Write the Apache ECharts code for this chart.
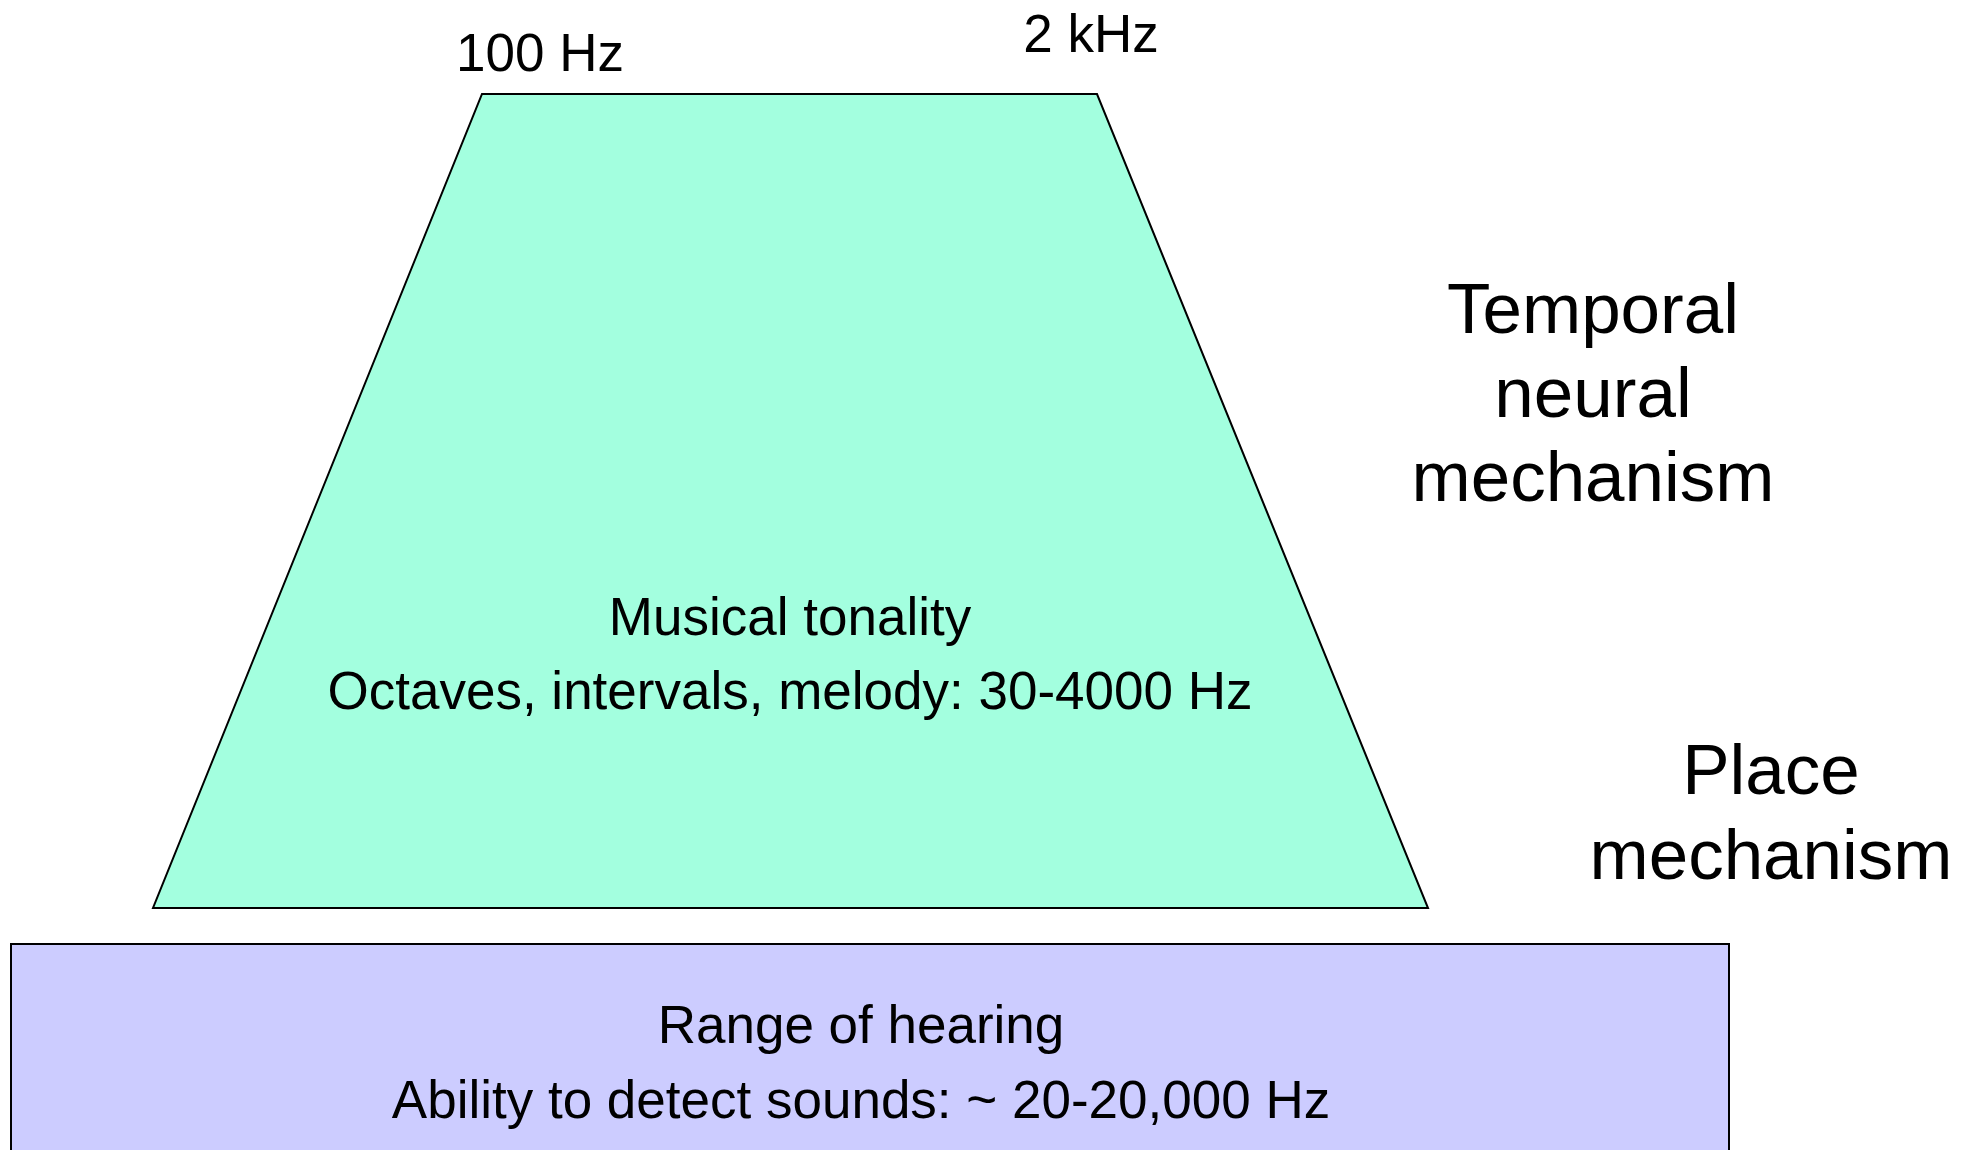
<!DOCTYPE html>
<html>
<head>
<meta charset="utf-8">
<title>Range of hearing</title>
<script src="https://cdn.jsdelivr.net/npm/echarts@6/dist/echarts.min.js"></script>
<style>
  html, body { margin: 0; padding: 0; background: #fff; }
  #main { width: 1970px; height: 1150px; }
</style>
</head>
<body>
<div id="main"></div>
<script>
// shapes: 0 = trapezoid (musical tonality), 1 = box (range of hearing)
var shapeTitles = ['Musical tonality', 'Range of hearing'];
var shapeNotes = ['Octaves, intervals, melody: 30-4000 Hz', 'Ability to detect sounds: ~ 20-20,000 Hz'];
var shapeX = [[482, 1097, 1428, 153], [11, 1729, 1729, 11]];
var shapeY = [[94, 94, 908, 908], [944, 944, 1162, 1162]];
var shapeColors = ['#a3ffdf', '#ccccff'];
var edgeLabels = ['100 Hz', '2 kHz'];
var mechanismLabels = [['Temporal', 'neural', 'mechanism'], ['Place', 'mechanism']];

// text anchors: [x, baseline]
var titleAnchors = [[790, 638], [861, 1046]];
var noteAnchors = [[790, 712], [861, 1121]];
var edgeAnchors = [[540, 74], [1091, 55]];
var mechAnchors = [[1593, 338], [1771, 799]];
var mechLineGap = [84, 85];

var FONT = '"Liberation Sans", Arial, Helvetica, sans-serif';
var SMALL = 53, BIG = 71;

function textEl(api, x, base, str, size) {
    var p = api.coord([x, base - size * 0.34]);
    return {
        type: 'text',
        x: p[0],
        y: p[1],
        style: {
            text: str,
            fill: '#000',
            font: size + 'px ' + FONT,
            align: 'center',
            verticalAlign: 'middle'
        }
    };
}

var chart = echarts.init(document.getElementById('main'));

var option = {
    animation: false,
    grid: { left: 0, right: 0, top: 0, bottom: 0 },
    xAxis: { type: 'value', min: 0, max: 1970, show: false },
    yAxis: { type: 'value', min: 0, max: 1150, inverse: true, show: false },
    series: [
        {
            type: 'custom',
            coordinateSystem: 'cartesian2d',
            data: shapeTitles.map(function (t, i) { return [i]; }),
            renderItem: function (params, api) {
                var i = params.dataIndex;
                var pts = shapeX[i].map(function (x, k) {
                    return api.coord([x, shapeY[i][k]]);
                });
                var children = [{
                    type: 'polygon',
                    shape: { points: pts },
                    style: { fill: shapeColors[i], stroke: '#000', lineWidth: 2 }
                }];
                children.push(textEl(api, titleAnchors[i][0], titleAnchors[i][1], shapeTitles[i], SMALL));
                children.push(textEl(api, noteAnchors[i][0], noteAnchors[i][1], shapeNotes[i], SMALL));
                return { type: 'group', children: children };
            },
            z: 2
        },
        {
            type: 'custom',
            coordinateSystem: 'cartesian2d',
            data: edgeLabels.map(function (t, i) { return [i]; }),
            renderItem: function (params, api) {
                var i = params.dataIndex;
                var children = [textEl(api, edgeAnchors[i][0], edgeAnchors[i][1], edgeLabels[i], SMALL)];
                mechanismLabels[i].forEach(function (line, k) {
                    children.push(textEl(api, mechAnchors[i][0], mechAnchors[i][1] + k * mechLineGap[i], line, BIG));
                });
                return { type: 'group', children: children };
            },
            z: 3
        }
    ]
};

chart.setOption(option);
</script>
</body>
</html>
